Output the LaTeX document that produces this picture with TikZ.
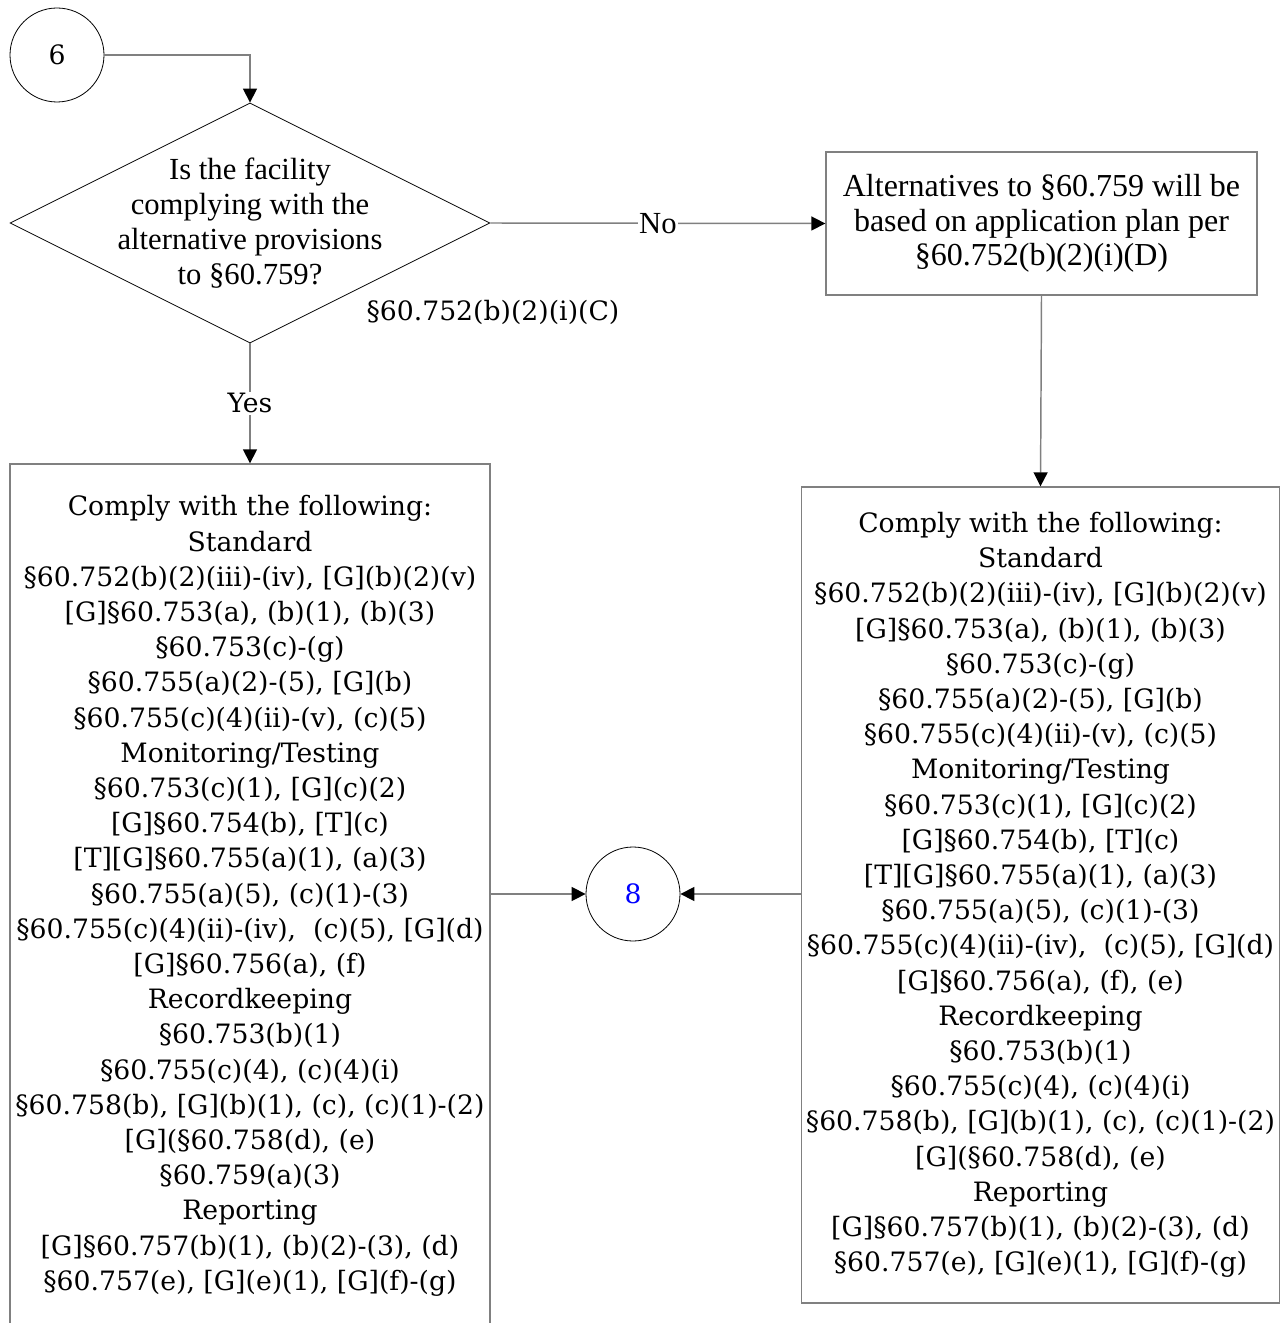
\documentclass[tikz,border=0pt]{standalone}
\usepackage{fontspec}
\setmainfont{DejaVu Serif}
\newfontfamily\narrowface{Liberation Serif}
\usetikzlibrary{arrows.meta,shapes.geometric,positioning}

\begin{document}
\begin{tikzpicture}[x=0.75pt,y=-0.75pt,
  term/.style={draw,circle,minimum size=70.5pt,inner sep=0pt,line width=0.6pt,font=\fontsize{20}{24}\selectfont},
  decision/.style={draw,diamond,aspect=2,minimum width=360pt,minimum height=180pt,inner sep=0pt,line width=0.6pt},
  plainbox/.style={draw=gray,rectangle,line width=1pt,align=center},
  conn/.style={draw=gray,line width=1.1pt,-{Triangle[length=10.5pt,width=10.5pt,color=black]}},
  tag/.style={fill=white,inner sep=1pt}]

\useasboundingbox (0,0) rectangle (1280,1323);

\node (c6) [term] at (57,55) {6};
\node (q) [decision] at (250,223) {};
\node (qtxt) [align=center,font=\narrowface\fontsize{23}{26.25}\selectfont] at (q.center) {Is the facility\\complying with the\\alternative provisions\\to §60.759?};
\node (qref) [font=\fontsize{20}{24}\selectfont] at (493,312) {§60.752(b)(2)(i)(C)};
\node (alt) [plainbox,minimum width=323.25pt,minimum height=107.25pt,font=\narrowface\fontsize{24}{25.9}\selectfont] at (1041.5,223.5) {Alternatives to §60.759 will be\\based on application plan per\\§60.752(b)(2)(i)(D)};

\node (lbox) [plainbox,minimum width=360pt,minimum height=648pt,font=\fontsize{20}{26.4}\selectfont] at (250,896) {Comply with the following:\\Standard\\§60.752(b)(2)(iii)-(iv), [G](b)(2)(v)\\{}[G]§60.753(a), (b)(1), (b)(3)\\§60.753(c)-(g)\\§60.755(a)(2)-(5), [G](b)\\§60.755(c)(4)(ii)-(v), (c)(5)\\Monitoring/Testing\\§60.753(c)(1), [G](c)(2)\\{}[G]§60.754(b), [T](c)\\{}[T][G]§60.755(a)(1), (a)(3)\\§60.755(a)(5), (c)(1)-(3)\\§60.755(c)(4)(ii)-(iv),~ (c)(5), [G](d)\\{}[G]§60.756(a), (f)\\Recordkeeping\\§60.753(b)(1)\\§60.755(c)(4), (c)(4)(i)\\§60.758(b), [G](b)(1), (c), (c)(1)-(2)\\{}[G](§60.758(d), (e)\\§60.759(a)(3)\\Reporting\\{}[G]§60.757(b)(1), (b)(2)-(3), (d)\\§60.757(e), [G](e)(1), [G](f)-(g)};

\node (rbox) [plainbox,minimum width=357.75pt,minimum height=612pt,font=\fontsize{20}{26.4}\selectfont] at (1040.5,895) {Comply with the following:\\Standard\\§60.752(b)(2)(iii)-(iv), [G](b)(2)(v)\\{}[G]§60.753(a), (b)(1), (b)(3)\\§60.753(c)-(g)\\§60.755(a)(2)-(5), [G](b)\\§60.755(c)(4)(ii)-(v), (c)(5)\\Monitoring/Testing\\§60.753(c)(1), [G](c)(2)\\{}[G]§60.754(b), [T](c)\\{}[T][G]§60.755(a)(1), (a)(3)\\§60.755(a)(5), (c)(1)-(3)\\§60.755(c)(4)(ii)-(iv),~ (c)(5), [G](d)\\{}[G]§60.756(a), (f), (e)\\Recordkeeping\\§60.753(b)(1)\\§60.755(c)(4), (c)(4)(i)\\§60.758(b), [G](b)(1), (c), (c)(1)-(2)\\{}[G](§60.758(d), (e)\\Reporting\\{}[G]§60.757(b)(1), (b)(2)-(3), (d)\\§60.757(e), [G](e)(1), [G](f)-(g)};

\node (c8) [term,text=blue] at (633,894) {8};

\draw[conn] (c6) -| (q);
\draw[conn] (q.east) -- node[tag,font=\narrowface\fontsize{23}{26}\selectfont] {No} (alt.west);
\draw[conn] (q.south) -- node[tag,font=\fontsize{20}{24}\selectfont] {Yes} (lbox.north);
\draw[conn] (alt.south) -- (rbox.north);
\draw[conn] (lbox.east |- c8) -- (c8.west);
\draw[conn] (rbox.west |- c8) -- (c8.east);

\end{tikzpicture}
\end{document}
